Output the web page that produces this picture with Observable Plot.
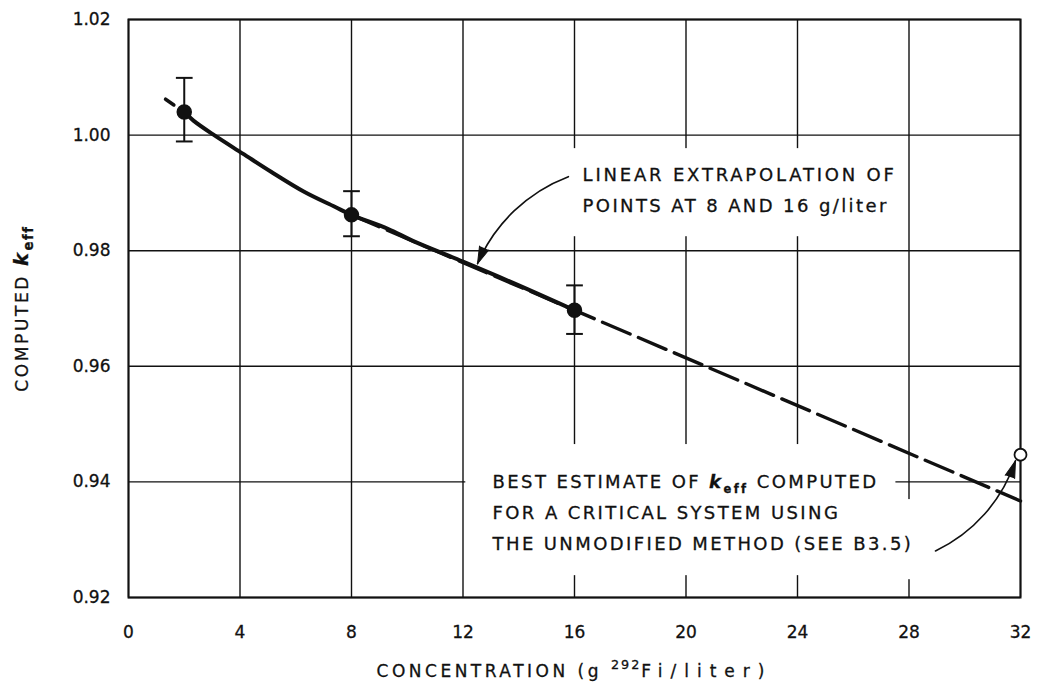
<!DOCTYPE html>
<html><head><meta charset="utf-8">
<script src="https://cdn.jsdelivr.net/npm/d3@7"></script>
<script src="https://cdn.jsdelivr.net/npm/@observablehq/plot@0.6"></script>
<style>
html,body{margin:0;padding:0;background:#fff;}
svg text{stroke:#111;stroke-width:0.3px;}
</style></head><body><div id="chart"></div>
<script>
// ---- data ----
const xTicks = [0, 4, 8, 12, 16, 20, 24, 28, 32];
const yTicks = [0.92, 0.94, 0.96, 0.98, 1.00, 1.02];

const pointX = [2, 8, 16];
const pointK = [1.0040, 0.9862, 0.9697];
const errLow = [0.9989, 0.9825, 0.9656];
const errHigh = [1.0099, 0.9903, 0.9740];

const curveX = [2.0, 2.33, 3.1, 4.1, 5.1, 6.3, 7.4, 8.0, 9.3, 10.2, 12.0, 14.0, 16.0];
const curveK = [1.0040, 1.0025, 0.9999, 0.9968, 0.9937, 0.9902, 0.9876, 0.9862, 0.9838, 0.9817, 0.9781, 0.9740, 0.9697];

const leadX = [1.33, 2.0];
const leadK = [1.0062, 1.0040];

const extrapX = [8, 32];
const extrapK = [0.9862, 0.9367];

const bestX = [32];
const bestK = [0.9447];

const note1 = ["LINEAR EXTRAPOLATION OF", "POINTS AT 8 AND 16 g/liter"];
const note2 = ["BEST ESTIMATE OF keff COMPUTED", "FOR A CRITICAL SYSTEM USING", "THE UNMODIFIED METHOD (SEE B3.5)"];
const xTitle = "CONCENTRATION (g 292Fi/liter)";
const yTitle = "COMPUTED keff";

// ---- tables built from the arrays ----
const points = pointX.map((x, i) => ({x, k: pointK[i], lo: errLow[i], hi: errHigh[i]}));
const curve = curveX.map((x, i) => ({x, k: curveK[i]}));
const lead = leadX.map((x, i) => ({x, k: leadK[i]}));
const extrap = extrapX.map((x, i) => ({x, k: extrapK[i]}));
const best = bestX.map((x, i) => ({x, k: bestK[i]}));
const note1Rows = note1.map((t, i) => ({t, x: 16.29, k: [0.99299, 0.98762][i]}));
const note2Rows = note2.map((t, i) => ({t, x: 13.06, k: [0.93988, 0.93451, 0.92914][i]}));
const masks = [
  {x1: 15.5, x2: 27.7, y1: 0.98242, y2: 0.99766},
  {x1: 12.1, x2: 27.53, y1: 0.92378, y2: 0.94646},
  {x1: 27.53, x2: 28.45, y1: 0.92308, y2: 0.93694}
];
const arrows = [
  {x1: 15.78, y1: 0.99281, x2: 12.52, y2: 0.97775, rot: 203},
  {x1: 28.95, y1: 0.92805, x2: 31.82, y2: 0.94364, rot: 19}
];

const ink = "#111";
const capHalf = 0.3;

const plot = Plot.plot({
  width: 1038,
  height: 688,
  marginLeft: 128,
  marginRight: 18,
  marginTop: 19,
  marginBottom: 91,
  x: {domain: [0, 32], axis: null},
  y: {domain: [0.92, 1.02], axis: null},
  style: {fontFamily: "DejaVu Sans", fontSize: "17px", color: ink, background: "#fff"},
  marks: [
    Plot.gridX(xTicks, {stroke: ink, strokeOpacity: 1, strokeWidth: 1.4}),
    Plot.gridY(yTicks, {stroke: ink, strokeOpacity: 1, strokeWidth: 1.4}),
    Plot.rect(masks, {x1: "x1", x2: "x2", y1: "y1", y2: "y2", fill: "#fff", inset: 0}),
    Plot.frame({stroke: ink, strokeWidth: 2}),
    Plot.axisX(xTicks, {tickSize: 0, tickPadding: 28, fontSize: 17, label: null}),
    Plot.axisY(yTicks, {tickSize: 0, tickPadding: 18, fontSize: 17, tickFormat: d3.format(".2f"), label: null}),
    Plot.line(extrap, {x: "x", y: "k", stroke: ink, strokeWidth: 3.4, strokeDasharray: "30,9"}),
    Plot.line(curve, {x: "x", y: "k", stroke: ink, strokeWidth: 4, curve: "catmull-rom"}),
    Plot.line(lead, {x: "x", y: "k", stroke: ink, strokeWidth: 3.6, strokeDasharray: "10,40"}),
    Plot.ruleX(points, {x: "x", y1: "lo", y2: "hi", stroke: ink, strokeWidth: 2}),
    Plot.link(points, {x1: d => d.x - capHalf, x2: d => d.x + capHalf, y1: "lo", y2: "lo", stroke: ink, strokeWidth: 2}),
    Plot.link(points, {x1: d => d.x - capHalf, x2: d => d.x + capHalf, y1: "hi", y2: "hi", stroke: ink, strokeWidth: 2}),
    Plot.dot(points, {x: "x", y: "k", r: 7, fill: ink, stroke: ink}),
    Plot.arrow(arrows, {x1: "x1", y1: "y1", x2: "x2", y2: "y2", bend: -23, stroke: ink, strokeWidth: 1.6, headLength: 0}),
    Plot.vector(arrows, {x: "x2", y: "y2", rotate: "rot", length: 17, r: 5, shape: "spike", anchor: "end", fill: ink, stroke: ink, strokeWidth: 1}),
    Plot.dot(best, {x: "x", y: "k", r: 6, fill: "#fff", stroke: ink, strokeWidth: 1.8}),
    Plot.text(note1Rows, {x: "x", y: "k", text: "t", textAnchor: "start", fontSize: 18, fill: ink}),
    Plot.text(note2Rows, {x: "x", y: "k", text: "t", textAnchor: "start", fontSize: 18, fill: ink}),
    Plot.text([xTitle], {text: d => d, frameAnchor: "bottom", textAnchor: "middle", dy: 79, fontSize: 17, fill: ink}),
    Plot.text([yTitle], {text: d => d, frameAnchor: "left", textAnchor: "middle", dx: -106, rotate: -90, fontSize: 17, fill: ink})
  ]
});

document.getElementById("chart").appendChild(plot);

// rich text: letter spacing, subscripts, superscripts
const notes = new Set([...note1, ...note2]);
d3.select(plot).selectAll("text").each(function () {
  const el = d3.select(this);
  const s = this.textContent;
  const size = parseFloat(el.attr("font-size")) || 17;
  if (notes.has(s)) el.style("letter-spacing", s === note1[0] ? "2.8px" : "2.4px");
  if (s === yTitle) {
    const [a] = s.split("keff");
    el.text(null).style("letter-spacing", "2.6px");
    el.append("tspan").text(a);
    el.append("tspan").attr("font-style", "italic").attr("font-weight", "bold").attr("font-size", size * 1.15).text("k");
    el.append("tspan").attr("font-size", size * 0.78).attr("font-weight", "bold").attr("dy", size * 0.3).style("letter-spacing", "1.5px").text("eff");
  } else if (s.includes("keff")) {
    const [a, b] = s.split("keff");
    el.text(null);
    el.append("tspan").text(a);
    el.append("tspan").attr("font-style", "italic").attr("font-weight", "bold").text("k");
    el.append("tspan").attr("font-size", size * 0.68).attr("font-weight", "bold").attr("dy", size * 0.3).text("eff");
    el.append("tspan").attr("dy", -size * 0.3).text(b);
  } else if (s === xTitle) {
    const [a, b] = s.split("292");
    el.text(null);
    el.append("tspan").style("letter-spacing", "3.5px").text(a);
    el.append("tspan").attr("font-size", size * 0.75).attr("dy", -size * 0.45).style("letter-spacing", "2px").text("292");
    el.append("tspan").attr("dy", size * 0.45).style("letter-spacing", "8px").text(b);
  }
});
</script>
</body></html>
